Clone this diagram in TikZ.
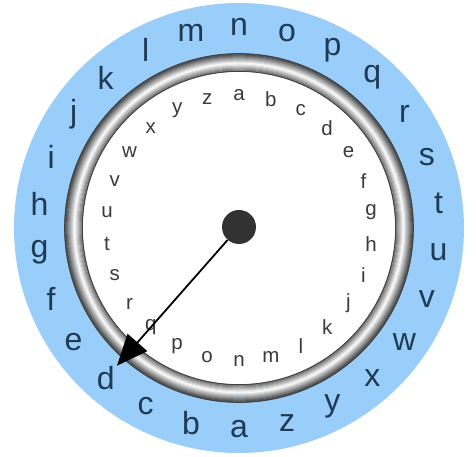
\documentclass[tikz,border=0pt]{standalone}
\usepackage{fontspec}
\setmainfont{Liberation Sans}
\usetikzlibrary{arrows.meta}

\definecolor{dialblue}{RGB}{153,206,250}
\definecolor{outink}{RGB}{32,58,84}
\definecolor{inink}{RGB}{58,58,58}
\definecolor{hubgray}{RGB}{50,50,50}

\begin{document}
\begin{tikzpicture}[x=1pt, y=1pt,
    outlet/.style={font=\fontsize{32}{32}\selectfont, text=outink, inner sep=0pt},
    inlet/.style={font=\fontsize{20.5}{20.5}\selectfont, text=inink, inner sep=0pt},
    hubdot/.style={circle, fill=hubgray, minimum size=34pt, inner sep=0pt}]
    \useasboundingbox (-239,-229) rectangle (237,228);
    \fill[white] (-239,-229) rectangle (237,228);
    % outer disc and inner face
    \fill[dialblue] (0,0) circle (225);
    \fill[white] (0,0) circle (166);
    % metal ring, shaded band by band
    \foreach \i in {0,...,17} {
        \pgfmathsetmacro{\t}{\i/17}
        \pgfmathsetmacro{\g}{100*max(0.3, 1-1.35*abs(\t-0.45))}
        \draw[white!\g!black, line width=1.25pt] (0,0) circle (157+\i);
    }
    \draw[black!75, line width=0.8pt] (0,0) circle (156.6) (0,0) circle (174.4);
    % outer letters, a at the bottom
    \foreach \l [count=\k from 0] in {a,...,z} {
        \node[outlet] (out-\l) at ({270-\k*360/26}:201) {\l};
    }
    % inner letters, a at the top
    \foreach \l [count=\k from 0] in {a,...,z} {
        \node[inlet] (in-\l) at ({90-\k*360/26}:133) {\l};
    }
    % pointer
    \node[hubdot] (hub) at (0,1) {};
    \coordinate (tip) at (228.46:184);
    \draw[-{Triangle[length=31pt, width=26pt]}, line width=1.8pt] (hub) -- (tip);
\end{tikzpicture}
\end{document}
